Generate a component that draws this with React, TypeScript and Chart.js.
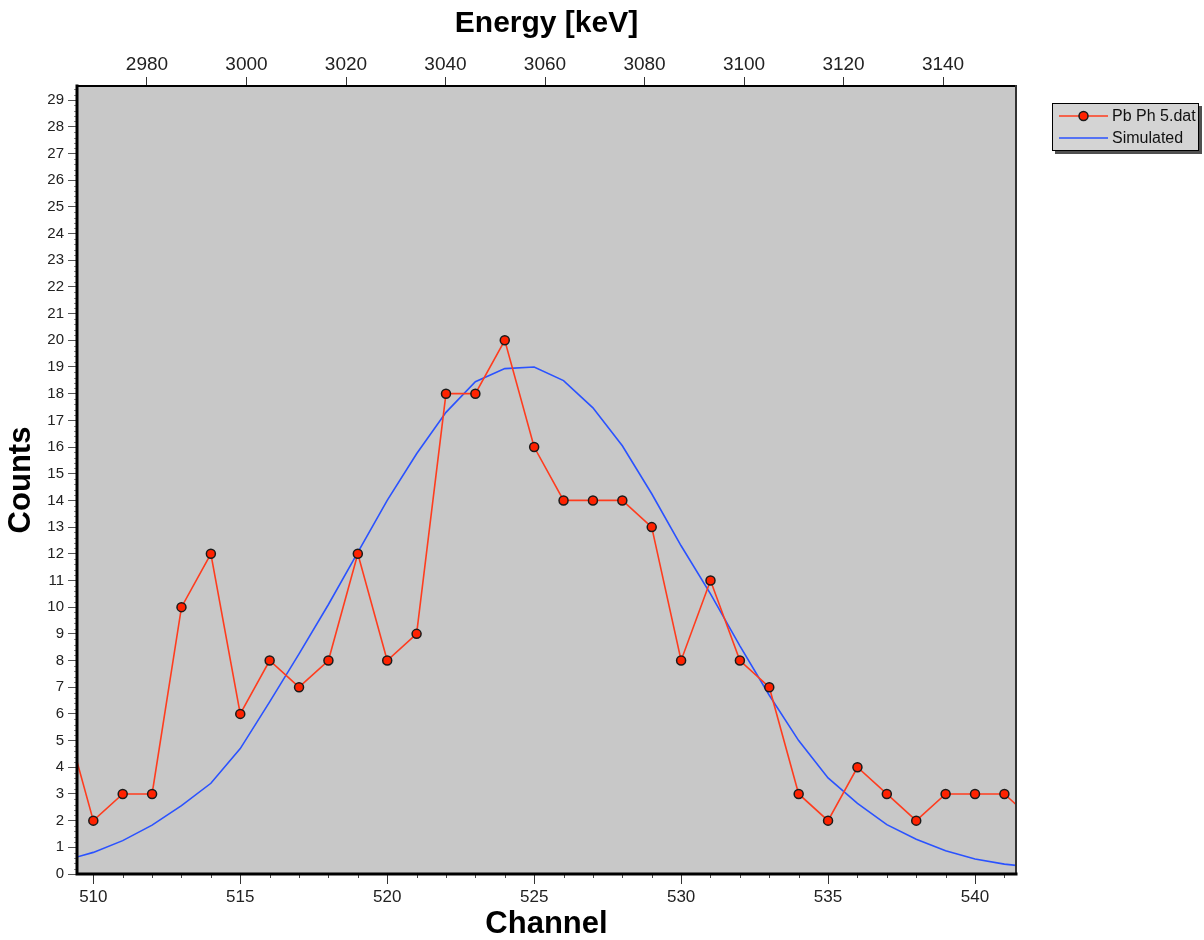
import React, { useEffect, useRef } from "react";
import { Chart, registerables } from "chart.js";

Chart.register(...registerables);

// ---- data ----
const channels = [509, 510, 511, 512, 513, 514, 515, 516, 517, 518, 519, 520, 521, 522, 523, 524, 525, 526, 527, 528, 529, 530, 531, 532, 533, 534, 535, 536, 537, 538, 539, 540, 541, 542];
const counts = [6, 2, 3, 3, 10, 12, 6, 8, 7, 8, 12, 8, 9, 18, 18, 20, 16, 14, 14, 14, 13, 8, 11, 8, 7, 3, 2, 4, 3, 2, 3, 3, 3, 2];
const simulated = [0.5, 0.81, 1.25, 1.83, 2.56, 3.4, 4.7, 6.45, 8.25, 10.1, 12.05, 14.0, 15.75, 17.3, 18.45, 18.94, 19.0, 18.49, 17.47, 16.05, 14.25, 12.3, 10.5, 8.55, 6.7, 5.0, 3.6, 2.65, 1.85, 1.3, 0.87, 0.56, 0.37, 0.25];

const channelTicks = [510, 515, 520, 525, 530, 535, 540];
const countTicks = [0, 1, 2, 3, 4, 5, 6, 7, 8, 9, 10, 11, 12, 13, 14, 15, 16, 17, 18, 19, 20, 21, 22, 23, 24, 25, 26, 27, 28, 29];
const energyTicks = [2980, 3000, 3020, 3040, 3060, 3080, 3100, 3120, 3140];

const channelRange = [509.445, 541.395];
const countRange = [0, 29.53];
const energyRange = [2965.93, 3154.67];

const seriesNames = ["Pb Ph 5.dat", "Simulated"];

const FONT = "'Liberation Sans', Arial, sans-serif";

const framePlugin = {
  id: "framePlugin",
  beforeDraw(chart: any) {
    const { ctx, chartArea: a } = chart;
    ctx.save();
    ctx.fillStyle = "#c8c8c8";
    ctx.fillRect(a.left, a.top, a.right - a.left, a.bottom - a.top);
    ctx.restore();
  },
  afterDraw(chart: any) {
    const { ctx, chartArea: a } = chart;
    const xs = chart.scales.x;
    const ys = chart.scales.y;
    ctx.save();
    // minor ticks bottom
    ctx.strokeStyle = "#444";
    ctx.lineWidth = 1;
    for (let c = Math.ceil(xs.min); c <= Math.floor(xs.max); c++) {
      if (c % 5 === 0) continue;
      const px = Math.round(xs.getPixelForValue(c)) + 0.5;
      ctx.beginPath();
      ctx.moveTo(px, a.bottom);
      ctx.lineTo(px, a.bottom + 4);
      ctx.stroke();
    }
    // minor ticks left
    ctx.strokeStyle = "#8a8a8a";
    for (let i = 0; i <= Math.floor(ys.max * 5); i++) {
      if (i % 5 === 0) continue;
      const py = Math.round(ys.getPixelForValue(i / 5)) + 0.5;
      ctx.beginPath();
      ctx.moveTo(a.left - 3, py);
      ctx.lineTo(a.left, py);
      ctx.stroke();
    }
    // frame
    ctx.lineCap = "square";
    ctx.strokeStyle = "#000";
    ctx.lineWidth = 2;
    ctx.beginPath();
    ctx.moveTo(a.left, a.top);
    ctx.lineTo(a.right, a.top);
    ctx.stroke();
    ctx.strokeStyle = "#333";
    ctx.beginPath();
    ctx.moveTo(a.right, a.top);
    ctx.lineTo(a.right, a.bottom);
    ctx.stroke();
    ctx.strokeStyle = "#000";
    ctx.lineWidth = 3;
    ctx.beginPath();
    ctx.moveTo(a.left, a.top);
    ctx.lineTo(a.left, a.bottom);
    ctx.lineTo(a.right, a.bottom);
    ctx.stroke();

    // legend
    const lx = 1052, ly = 103, lw = 147, lh = 48;
    ctx.fillStyle = "#505050";
    ctx.fillRect(lx + 3, ly + 3, lw, lh);
    ctx.fillStyle = "#d4d4d4";
    ctx.fillRect(lx, ly, lw, lh);
    ctx.strokeStyle = "#000";
    ctx.lineWidth = 1;
    ctx.lineCap = "butt";
    ctx.strokeRect(lx + 0.5, ly + 0.5, lw - 1, lh - 1);
    const ds = chart.data.datasets;
    const rows = [116, 138];
    ds.forEach((d: any, i: number) => {
      const y = rows[i];
      ctx.strokeStyle = d.borderColor;
      ctx.lineWidth = 1.5;
      ctx.beginPath();
      ctx.moveTo(1059, y);
      ctx.lineTo(1108, y);
      ctx.stroke();
      if (d.pointRadius > 0) {
        ctx.beginPath();
        ctx.arc(1083.5, y, 4.5, 0, Math.PI * 2);
        ctx.fillStyle = d.pointBackgroundColor;
        ctx.fill();
        ctx.strokeStyle = d.pointBorderColor;
        ctx.lineWidth = 1.5;
        ctx.stroke();
      }
      ctx.fillStyle = "#111";
      ctx.font = `16px ${FONT}`;
      ctx.textBaseline = "middle";
      ctx.textAlign = "left";
      ctx.fillText(d.label, 1112, y + 0.5);
    });
    ctx.restore();
  },
};

export default function App() {
  const ref = useRef<HTMLCanvasElement | null>(null);

  useEffect(() => {
    if (!ref.current) return;
    const chart = new Chart(ref.current, {
      type: "line",
      data: {
        datasets: [
          {
            label: seriesNames[0],
            data: channels.map((c, i) => ({ x: c, y: counts[i] })),
            borderColor: "#ff3c1e",
            borderWidth: 1.6,
            pointRadius: 4.5,
            pointBackgroundColor: "#ff2200",
            pointBorderColor: "#1a1a1a",
            pointBorderWidth: 1.5,
            tension: 0,
            xAxisID: "x",
            yAxisID: "y",
            order: 1,
          },
          {
            label: seriesNames[1],
            data: channels.map((c, i) => ({ x: c, y: simulated[i] })),
            borderColor: "#2a52ff",
            borderWidth: 1.6,
            pointRadius: 0,
            tension: 0,
            xAxisID: "x",
            yAxisID: "y",
            order: 2,
          },
        ],
      },
      plugins: [framePlugin],
      options: {
        responsive: false,
        animation: false,
        devicePixelRatio: 1,
        layout: { padding: { left: 0, right: 188, top: 0, bottom: 0 } },
        plugins: { legend: { display: false }, tooltip: { enabled: false }, title: { display: false } },
        scales: {
          x: {
            type: "linear",
            position: "bottom",
            min: channelRange[0],
            max: channelRange[1],
            afterBuildTicks: (s: any) => { s.ticks = channelTicks.map((v) => ({ value: v })); },
            afterFit: (s: any) => { s.height = 66; },
            grid: { drawOnChartArea: false, drawTicks: true, tickLength: 10, tickColor: "#333", tickWidth: 1 },
            border: { display: false },
            ticks: { color: "#222", font: { family: FONT, size: 17 }, padding: 3, maxRotation: 0, autoSkip: false, callback: (v: any) => String(v) },
            title: { display: true, text: "Channel", color: "#000", font: { family: FONT, size: 31, weight: "bold", lineHeight: 1 }, padding: { top: 0, bottom: 0 } },
          },
          x2: {
            type: "linear",
            position: "top",
            min: energyRange[0],
            max: energyRange[1],
            afterBuildTicks: (s: any) => { s.ticks = energyTicks.map((v) => ({ value: v })); },
            afterFit: (s: any) => { s.height = 86; },
            grid: { drawOnChartArea: false, drawTicks: true, tickLength: 9, tickColor: "#333", tickWidth: 1 },
            border: { display: false },
            ticks: { color: "#222", font: { family: FONT, size: 19 }, padding: 1, maxRotation: 0, autoSkip: false, callback: (v: any) => String(v) },
            title: { display: true, text: "Energy [keV]", color: "#000", font: { family: FONT, size: 30, weight: "bold", lineHeight: 1 }, padding: { top: 9, bottom: 0 } },
          },
          y: {
            type: "linear",
            position: "left",
            min: countRange[0],
            max: countRange[1],
            afterBuildTicks: (s: any) => { s.ticks = countTicks.map((v) => ({ value: v })); },
            afterFit: (s: any) => { s.width = 77; },
            grid: { drawOnChartArea: false, drawTicks: true, tickLength: 9, tickColor: "#555", tickWidth: 1 },
            border: { display: false },
            ticks: { color: "#222", font: { family: FONT, size: 15 }, padding: 4, autoSkip: false, callback: (v: any) => String(v) },
            title: { display: true, text: "Counts", color: "#000", font: { family: FONT, size: 31, weight: "bold", lineHeight: 1 }, padding: { top: 6, bottom: 0 } },
          },
        },
      } as any,
    });
    return () => chart.destroy();
  }, []);

  return (
    <div style={{ position: "absolute", left: 0, top: 0, width: 1204, height: 940, background: "#fff" }}>
      <canvas ref={ref} width={1204} height={940} style={{ display: "block", width: 1204, height: 940 }} />
    </div>
  );
}
